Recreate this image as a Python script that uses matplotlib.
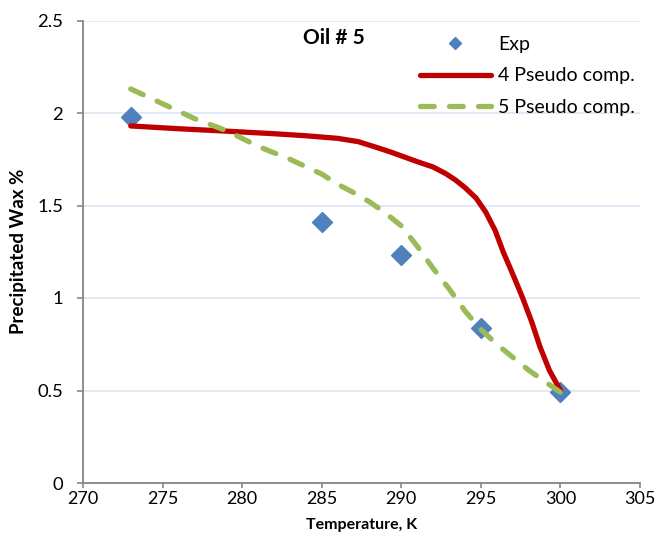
import matplotlib
matplotlib.use("Agg")
import matplotlib.pyplot as plt
from matplotlib.lines import Line2D

plt.rcParams['font.family'] = ['Lato', 'DejaVu Sans']

exp_T = [273, 285, 290, 295, 300]
exp_W = [1.98, 1.41, 1.23, 0.84, 0.49]

p4_T = [273, 276, 279, 282, 284, 286, 287.3, 288.3, 289.3, 290.2, 291, 292, 292.8, 293.4, 294,
        294.7, 295.3, 295.9, 296.4, 297, 297.6, 298.2, 298.7, 299.3, 300]
p4_W = [1.93, 1.915, 1.902, 1.888, 1.877, 1.863, 1.845, 1.818, 1.79, 1.762, 1.737, 1.708, 1.672, 1.638, 1.597,
        1.54, 1.465, 1.365, 1.25, 1.13, 1.006, 0.87, 0.74, 0.61, 0.50]

p5_T = [273, 275, 277, 279, 281, 283, 285, 286, 287, 288, 289, 290, 291, 292, 293, 294, 295, 296, 297, 298, 299, 300]
p5_W = [2.13, 2.05, 1.97, 1.905, 1.82, 1.75, 1.67, 1.615, 1.57, 1.52, 1.46, 1.39, 1.28, 1.16, 1.05, 0.93, 0.83, 0.75, 0.68, 0.61, 0.55, 0.49]

x_ticks = [270, 275, 280, 285, 290, 295, 300, 305]
y_ticks = [0, 0.5, 1, 1.5, 2, 2.5]
y_tick_labels = ['0', '0.5', '1', '1.5', '2', '2.5']

RED = '#C00000'
GREEN = '#9BBB59'
BLUE = '#4F81BD'

fig = plt.figure(figsize=(6.58, 5.33), dpi=100)
ax = fig.add_axes([83/658, 50/533, 557/658, 462.5/533])

ax.plot(p4_T, p4_W, color=RED, lw=3.8, solid_capstyle='round', solid_joinstyle='round', zorder=3)
ax.plot(p5_T, p5_W, color=GREEN, lw=3.8, dashes=(2.6, 2.9), dash_capstyle='round', zorder=4)
ax.plot(exp_T, exp_W, linestyle='none', marker='D', color=BLUE, markersize=10.5, zorder=2)

ax.set_xlim(270, 305)
ax.set_ylim(0, 2.5)
ax.set_xticks(x_ticks)
ax.set_yticks(y_ticks)
ax.set_yticklabels(y_tick_labels)
ax.yaxis.grid(True, color='#DCE6F2', lw=1.2)
ax.set_axisbelow(True)
for s in ['top', 'right']:
    ax.spines[s].set_visible(False)
for s in ['left', 'bottom']:
    ax.spines[s].set_color('#868686')
    ax.spines[s].set_linewidth(1.3)
ax.tick_params(direction='out', length=4.3, width=1.2, color='#868686', labelsize=13.3, labelcolor='black', pad=10)
ax.tick_params(axis='x', length=3.6, labelsize=13, pad=2.5)

ax.set_xlabel('Temperature, K', fontsize=11.5, fontweight='bold', va='bottom')
ax.xaxis.set_label_coords(0.5, -0.107)
ax.set_ylabel('Precipitated Wax %', fontsize=13.5, fontweight='bold')
ax.yaxis.set_label_coords(-0.1005, 0.5)

ax.text((334-83)/557, (483-38)/462.5, 'Oil # 5', transform=ax.transAxes, fontsize=15, fontweight='bold',
        ha='center', va='center')

h = [Line2D([], [], linestyle='none', marker='D', color=BLUE, markersize=6),
     Line2D([], [], color=RED, lw=3.8, solid_capstyle='round'),
     Line2D([], [], color=GREEN, lw=3.8, dashes=(2.6, 2.9), dash_capstyle='round')]
fig.legend(h, ['Exp', '4 Pseudo comp.', '5 Pseudo comp.'], loc='upper left',
           bbox_to_anchor=(420/658, 1 - 36/533), bbox_transform=fig.transFigure,
           frameon=False, fontsize=14, handlelength=3.65, labelspacing=0.74, handletextpad=0.35,
           borderpad=0, borderaxespad=0)

fig.savefig('out.png', dpi=100)
